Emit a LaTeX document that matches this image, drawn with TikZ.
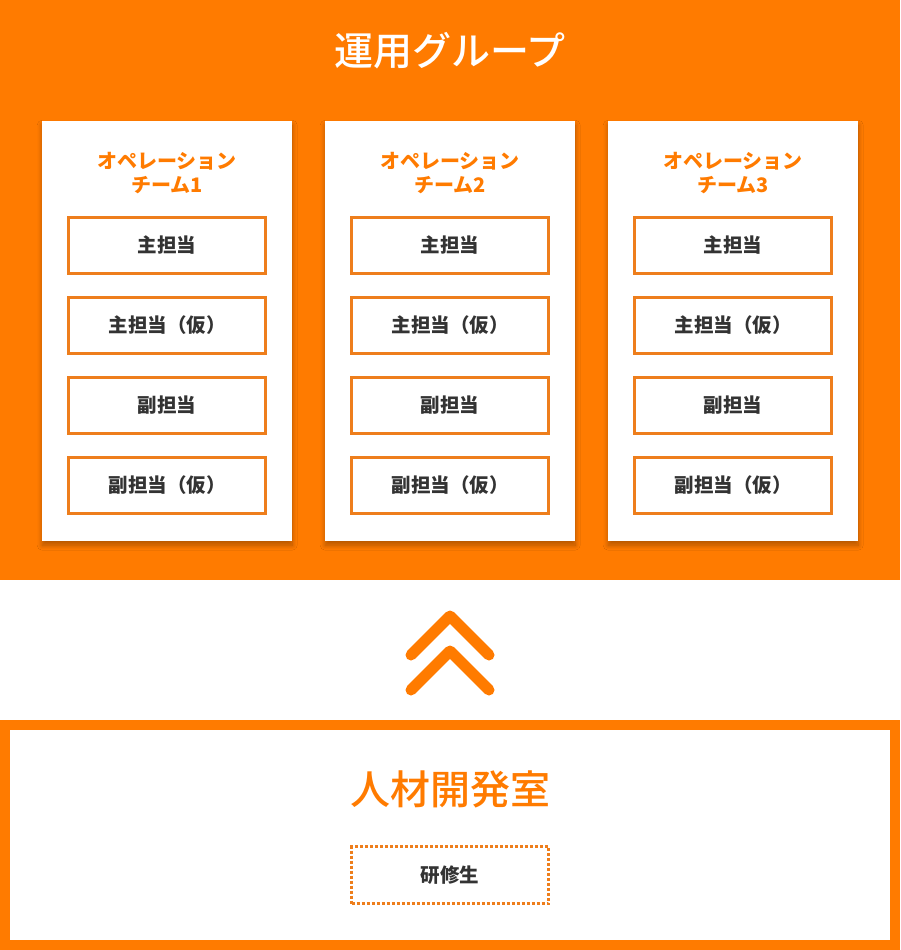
\documentclass[tikz,border=0pt]{standalone}
\usepackage{fontspec}
\setmainfont{Noto Sans CJK JP}
\newfontfamily\jp{Noto Sans CJK JP}
\newfontfamily\jpm{Noto Sans CJK JP Medium}
\usetikzlibrary{shadows.blur}
\definecolor{og}{HTML}{FF7B00}
\definecolor{bx}{HTML}{EE7E1C}
\definecolor{tx}{HTML}{333333}
\tikzset{
  card/.style={fill=white, draw=none, minimum width=250pt, minimum height=420pt, anchor=north west,
    blur shadow={shadow xshift=0pt, shadow yshift=-4pt, shadow blur radius=5pt, shadow blur steps=10, shadow opacity=30}},
  rolebox/.style={draw=bx, line width=3pt, fill=white, minimum width=197pt, minimum height=56pt,
    text=tx, font=\jp\bfseries\fontsize{19.5}{21}\selectfont},
  cardtitle/.style={text=og, align=center, font=\jp\bfseries\fontsize{20}{24}\selectfont},
  chev/.style={draw=og, line width=11pt, line cap=round, line join=round},
}
\begin{document}
\begin{tikzpicture}[x=1pt,y=-1pt]
\useasboundingbox (0,0) rectangle (900,950);
\fill[white] (0,0) rectangle (900,950);
% top band
\fill[og] (0,0) rectangle (900,580);
\node[text=white, font=\jpm\fontsize{39}{41}\selectfont] (title) at (450,51) {運用グループ};
% cards
\foreach \i/\x in {1/42,2/325,3/608}{
  \node[card] (card\i) at (\x,121) {};
  \node[cardtitle] (ct\i) at (\x+125,173) {オペレーション\\チーム\i};
  \node[rolebox] (a\i) at (\x+125,245) {主担当};
  \node[rolebox] (b\i) at (\x+125,325) {主担当（仮）};
  \node[rolebox] (c\i) at (\x+125,405) {副担当};
  \node[rolebox] (d\i) at (\x+125,485) {副担当（仮）};
}
% chevrons
\coordinate (u1) at (411,655); \coordinate (u2) at (450,616); \coordinate (u3) at (489,655);
\coordinate (l1) at (411,690); \coordinate (l2) at (450,651); \coordinate (l3) at (489,690);
\draw[chev] (u1) -- (u2) -- (u3);
\draw[chev] (l1) -- (l2) -- (l3);
% bottom box
\fill[og] (0,720) rectangle (900,950);
\fill[white] (10,730) rectangle (890,940);
\node[text=og, font=\jpm\fontsize{40}{42}\selectfont] (hr) at (450,789) {人材開発室};
\node[draw=bx, line width=3pt, dash pattern=on 3pt off 2pt, minimum width=197pt, minimum height=57pt,
  text=tx, font=\jp\bfseries\fontsize{19.5}{21}\selectfont] (trainee) at (450,875) {研修生};
\end{tikzpicture}
\end{document}
